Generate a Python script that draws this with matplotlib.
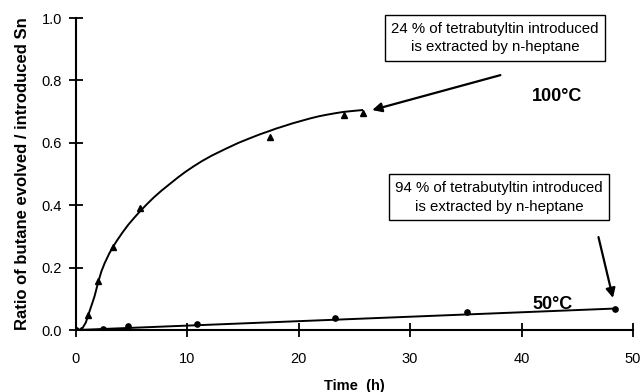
import numpy as np
import matplotlib
matplotlib.use('Agg')
import matplotlib.pyplot as plt
from matplotlib import rcParams
rcParams.update({'font.family': 'Liberation Sans', 'font.size': 10})

# measured points, 100 C (triangles)
t100 = [0.0, 0.5, 1.1, 2.0, 3.35, 5.8, 17.4, 24.1, 25.8]
r100 = [0.0, 0.0, 0.048, 0.158, 0.267, 0.39, 0.618, 0.69, 0.697]
# hand-drawn trend curve, 100 C
c100_t = [0.3, 0.6, 0.9, 1.1, 1.3, 1.5, 1.7, 2.0, 2.3, 2.6, 3.0, 3.35, 3.7, 4.2, 4.7, 5.2,
          5.75, 6.4, 7.0, 7.7, 8.5, 9.2, 9.8, 10.5, 11.3, 12.2, 13.4, 14.6, 15.5, 16.5,
          17.3, 18.0, 18.8, 19.5, 20.3, 21.0, 21.8, 22.5, 23.3, 24.0, 24.8, 25.7]
c100_r = [0.0, 0.006, 0.024, 0.045, 0.067, 0.088, 0.11, 0.152, 0.188, 0.215, 0.245, 0.267,
          0.287, 0.313, 0.337, 0.358, 0.38, 0.404, 0.425, 0.447, 0.47, 0.49, 0.506, 0.523,
          0.541, 0.559, 0.58, 0.6, 0.613, 0.627, 0.637, 0.646, 0.655, 0.663, 0.671, 0.678,
          0.685, 0.69, 0.695, 0.699, 0.702, 0.705]

# measured points, 50 C (circles)
t50 = [0.0, 2.45, 4.7, 10.9, 23.3, 35.1, 48.4]
r50 = [0.0, 0.005, 0.013, 0.02, 0.039, 0.059, 0.069]
# trend line, 50 C
c50_t = [0.0, 48.4]
c50_r = [0.0, 0.069]

fig = plt.figure(figsize=(6.42, 3.92), dpi=100)
ax = fig.add_axes([0.118, 0.158, 0.868, 0.796])

ax.plot(c100_t, c100_r, c='k', lw=1.4)
ax.plot(t100, r100, ls='none', marker='^', ms=3.8, c='k')
ax.plot(c50_t, c50_r, c='k', lw=1.4)
ax.plot(t50, r50, ls='none', marker='o', ms=3.8, c='k')

ax.set_xlim(0, 50)
ax.set_ylim(0, 1.0)
ax.set_xticks([0, 10, 20, 30, 40, 50])
ax.set_yticks([0.0, 0.2, 0.4, 0.6, 0.8, 1.0])
ax.set_yticklabels(['0.0', '0.2', '0.4', '0.6', '0.8', '1.0'])
for s in ['top', 'right']:
    ax.spines[s].set_visible(False)
for s in ['left', 'bottom']:
    ax.spines[s].set_linewidth(1.5)
ax.tick_params(direction='inout', length=10, width=1.3, labelsize=10.5)
ax.tick_params(axis='y', pad=5)
ax.tick_params(axis='x', pad=11)

ax.set_xlabel('Time  (h)', fontweight='bold', fontsize=10.5, labelpad=9)
ax.set_ylabel('Ratio of butane evolved / introduced Sn', fontweight='bold', fontsize=12,
              labelpad=8)

box = dict(boxstyle='square,pad=0.42', fc='white', ec='k', lw=1.0)
ax.text(37.6, 0.936, '24 % of tetrabutyltin introduced\nis extracted by n-heptane',
        ha='center', va='center', fontsize=10.8, bbox=box, linespacing=1.45)
ax.annotate('', xy=(26.6, 0.705), xytext=(38.1, 0.817),
            arrowprops=dict(arrowstyle='-|>', color='k', lw=1.6, shrinkA=0, shrinkB=0,
                            mutation_scale=14))
ax.text(38.0, 0.426, '94 % of tetrabutyltin introduced\nis extracted by n-heptane',
        ha='center', va='center', fontsize=10.8, bbox=box, linespacing=1.45)
ax.annotate('', xy=(48.2, 0.103), xytext=(46.9, 0.298),
            arrowprops=dict(arrowstyle='-|>', color='k', lw=1.6, shrinkA=0, shrinkB=0,
                            mutation_scale=14))

ax.text(43.2, 0.747, '100°C', fontweight='bold', fontsize=13, ha='center', va='center')
ax.text(42.8, 0.082, '50°C', fontweight='bold', fontsize=13, ha='center', va='center')

plt.savefig('out.png', dpi=100)
